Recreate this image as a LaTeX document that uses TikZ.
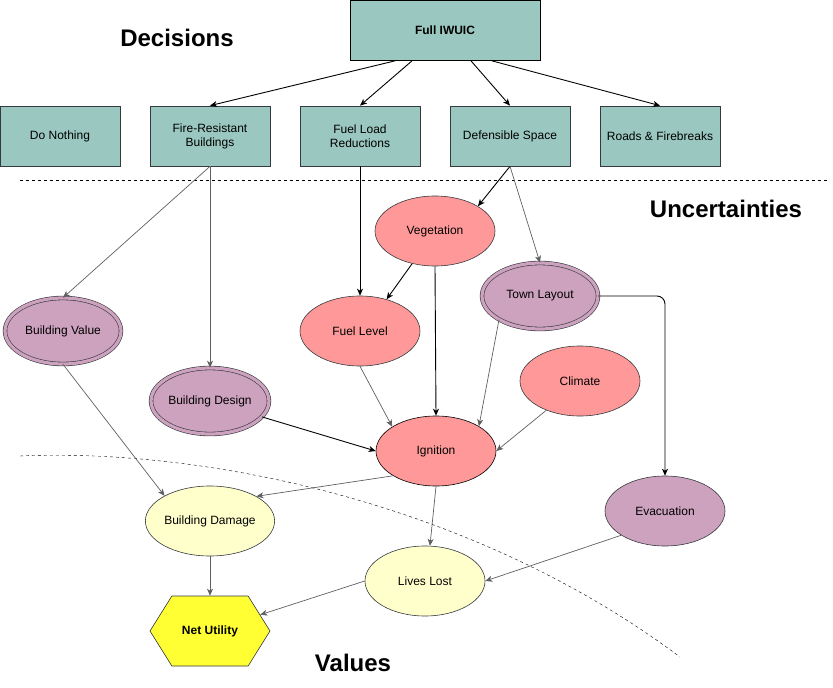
\documentclass[tikz,border=0pt]{standalone}
\usepackage{fontspec}
\setmainfont{Liberation Sans}
\usetikzlibrary{shapes.geometric, shapes.symbols, arrows.meta}

\definecolor{decfill}{HTML}{9AC7BF}
\definecolor{chancefill}{HTML}{FF9999}
\definecolor{policyfill}{HTML}{CDA2BE}
\definecolor{valuefill}{HTML}{FFFFCC}
\definecolor{utilfill}{HTML}{FFFF33}
\definecolor{rim}{HTML}{36393D}
\definecolor{wire}{HTML}{5F5F5F}

\begin{document}
\begin{tikzpicture}[x=1pt, y=-1pt, >={Stealth[length=7pt, width=6pt, inset=2pt]},
    font=\fontsize{12}{14}\selectfont,
    decision/.style={rectangle, draw=rim, fill=decfill, line width=0.7pt, minimum width=120pt, minimum height=60pt, align=center, inner sep=2pt},
    chance/.style={ellipse, draw=rim, fill=chancefill, line width=0.6pt, minimum width=120pt, minimum height=70pt, inner sep=0pt},
    given/.style={chance, fill=policyfill, double=policyfill, double distance=3.2pt, minimum width=116pt, minimum height=66pt},
    value/.style={chance, fill=valuefill},
    title/.style={font=\fontsize{24}{28}\selectfont\bfseries},
    link/.style={->, draw=wire, line width=0.7pt},
    blink/.style={->, draw=black, line width=0.9pt}]
        \useasboundingbox (0,0) rectangle (833,688);

        % Nodes
        \node (full) [decision, draw=black, minimum width=190pt, font=\fontsize{12}{14}\selectfont\bfseries] at (445,30.5) {Full IWUIC};
        \node (nothing) [decision] at (60,136) {Do Nothing};
        \node (resistant) [decision] at (210,136) {Fire-Resistant\\Buildings};
        \node (fuelload) [decision] at (360,136) {Fuel Load\\Reductions};
        \node (defensible) [decision] at (510,136) {Defensible Space};
        \node (roads) [decision] at (660,136) {Roads \& Firebreaks};

        \node (vegetation) [chance] at (435,231) {Vegetation};
        \node (town) [given] at (540,296) {Town Layout};
        \node (bvalue) [given] at (63,331) {Building Value};
        \node (fuellevel) [chance] at (360,331) {Fuel Level};
        \node (bdesign) [given] at (210,401) {Building Design};
        \node (climate) [chance] at (580,381) {Climate};
        \node (ignition) [chance, draw=black] at (436,451) {Ignition};
        \node (evacuation) [chance, fill=policyfill] at (665,511) {Evacuation};
        \node (bdamage) [value] at (210,521) {Building Damage};
        \node (liveslost) [value] at (425,581) {Lives Lost};
        \node (utility) [signal, signal to=east and west, signal pointer angle=116, draw=rim, fill=utilfill, line width=0.6pt, minimum width=120pt, minimum height=70pt, font=\fontsize{12}{14}\selectfont\bfseries] at (210,631) {Net Utility};

        \node (decisions) [title] at (177,38) {Decisions};
        \node (uncertain) [title] at (726,209) {Uncertainties};
        \node (values) [title] at (353,663) {Values};

        % Separators
        \draw[dashed] (20,180) -- (828,180);
        \draw[dashed] (20,456) .. controls (200,448) and (470,500) .. (680,657);

        % Edges
        \draw[blink] ([xshift=-50pt]full.south) -- (resistant.north);
        \draw[blink] ([xshift=-33pt]full.south) -- (fuelload.north);
        \draw[blink] ([xshift=26pt]full.south) -- (defensible.north);
        \draw[blink] ([xshift=47pt]full.south) -- (roads.north);
        \draw[link] (resistant.south) -- (bvalue.north);
        \draw[link] (resistant.south) -- (bdesign.north);
        \draw[blink] (fuelload.south) -- (fuellevel.north);
        \draw[blink] (defensible.south) -- (vegetation.30);
        \draw[link] (defensible.south) -- (town.north);
        \draw[blink] (vegetation.235) -- (fuellevel.50);
        \draw[blink] (vegetation.south) -- (ignition.north);
        \draw[link] (fuellevel.south) -- (ignition.151);
        \draw[link] (town.210) -- (ignition.30);
        \draw[blink, rounded corners=8pt] (town.east) -| (evacuation.north);
        \draw[link] (climate.221) -- (ignition.east);
        \draw[blink] (bdesign.343) -- (ignition.west);
        \draw[link] (bvalue.south) -- (bdamage.151);
        \draw[link] (ignition.210) -- (bdamage.28);
        \draw[link] (ignition.south) -- (liveslost.82);
        \draw[link] (evacuation.209) -- (liveslost.east);
        \draw[link] (bdamage.south) -- (utility.north);
        \draw[link] (liveslost.west) -- (utility);
    \end{tikzpicture}
\end{document}
